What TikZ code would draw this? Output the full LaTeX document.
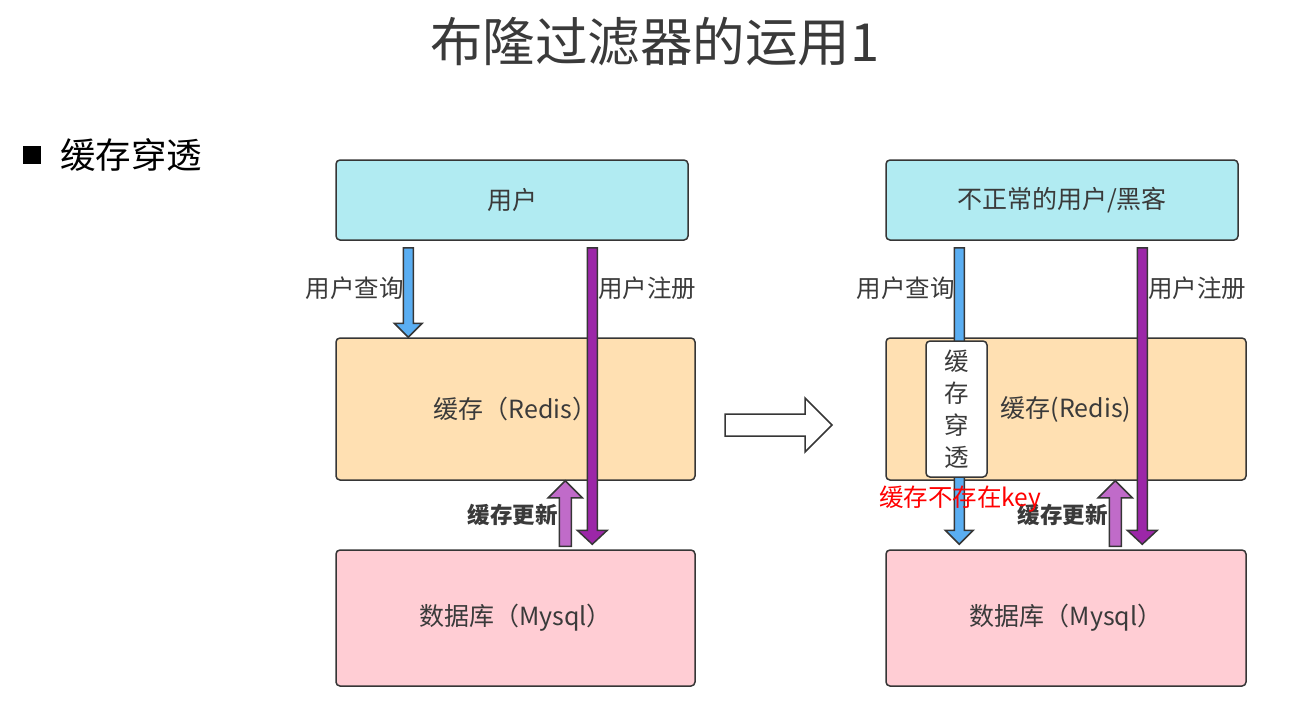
\documentclass[tikz,border=0pt]{standalone}
\usepackage{fontspec}
\setmainfont{Noto Sans CJK SC}
\usetikzlibrary{calc}

\definecolor{txtgray}{HTML}{3A3A3A}
\definecolor{usercyan}{HTML}{B1EBF2}
\definecolor{cachepeach}{HTML}{FFE0B2}
\definecolor{dbpink}{HTML}{FFCDD4}
\definecolor{queryblue}{HTML}{5AAEF2}
\definecolor{regpurple}{HTML}{9C27A8}
\definecolor{updpurple}{HTML}{C06BC9}
\definecolor{edgegray}{HTML}{363636}

% vertical block arrow: style, from, to, shaft half width, head half width, head length
\newcommand\blockarrow[6]{%
  \draw[#1] let \p1=(#2), \p2=(#3), \n1={ifthenelse(\y2>\y1,1,-1)} in
    (\x1-#4,\y1) -- (\x1+#4,\y1) -- (\x1+#4,\y2-\n1*#6) -- (\x1+#5,\y2-\n1*#6)
    -- (\x1,\y2) -- (\x1-#5,\y2-\n1*#6) -- (\x1-#4,\y2-\n1*#6) -- cycle;}

\begin{document}
\begin{tikzpicture}
    [x=1pt,y=-1pt,thick,
     box/.style={draw=edgegray,line width=1.5pt,rounded corners=4pt,text=txtgray,
       font=\fontsize{25}{30}\selectfont},
     lbl/.style={inner sep=0pt,text=txtgray,font=\fontsize{24.5}{30}\selectfont},
     boldlbl/.style={lbl,font=\fontsize{22.5}{28}\selectfont\bfseries},
     barrow/.style={draw=edgegray,line width=1.5pt,line join=miter}]
    \useasboundingbox (0,0) rectangle (1300,721);

    \node[text=txtgray,font=\fontsize{52.5}{62}\selectfont] (title) at (655,42) {布隆过滤器的运用1};
    \node[fill=black,minimum size=18pt,inner sep=0pt] (bullet) at (32,155) {};
    \node[anchor=west,inner sep=0pt,font=\fontsize{35.5}{42}\selectfont] (topic) at (60,155) {缓存穿透};

    % left: normal flow
    \node[box,fill=usercyan,minimum width=352pt,minimum height=80pt] (luser) at (512,200) {用户};
    \node[box,fill=cachepeach,minimum width=359pt,minimum height=142pt] (lcache) at (515.5,409) {缓存（Redis）};
    \node[box,fill=dbpink,minimum width=359pt,minimum height=136pt] (ldb) at (515.5,618) {数据库（Mysql）};

    \blockarrow{barrow,fill=queryblue}{[xshift=73pt,yshift=-7pt]luser.south west}{[xshift=73pt]lcache.north west}{5pt}{14pt}{14pt}
    \blockarrow{barrow,fill=regpurple}{[xshift=257pt,yshift=-7pt]luser.south west}{[xshift=257pt,yshift=5pt]ldb.north west}{5pt}{15pt}{14pt}
    \blockarrow{barrow,fill=updpurple}{[xshift=230pt,yshift=3pt]ldb.north west}{[xshift=230pt]lcache.south west}{6pt}{17pt}{17pt}

    \node[lbl,anchor=east] (lquery) at (404,288) {用户查询};
    \node[lbl,anchor=west] (lreg) at (598,288) {用户注册};
    \node[boldlbl,anchor=east] (lupd) at (558,515) {缓存更新};

    % hollow arrow between
    \draw[barrow,fill=white] (725,414) -- (805,414) -- (805,398) -- (832,425) -- (805,452)
        -- (805,436) -- (725,436) -- cycle;

    % right: penetration
    \node[box,fill=usercyan,minimum width=352pt,minimum height=80pt] (ruser) at (1062,200) {不正常的用户/黑客};
    \node[box,fill=cachepeach,minimum width=360pt,minimum height=142pt] (rcache) at (1066,409) {\hspace{0pt}缓存(Redis)};
    \node[box,fill=dbpink,minimum width=360pt,minimum height=136pt] (rdb) at (1066,618) {数据库（Mysql）};

    \blockarrow{barrow,fill=queryblue}{[xshift=74pt,yshift=-7pt]ruser.south west}{[xshift=74pt,yshift=5pt]rdb.north west}{5pt}{14pt}{14pt}
    \blockarrow{barrow,fill=regpurple}{[xshift=257pt,yshift=-7pt]ruser.south west}{[xshift=257pt,yshift=5pt]rdb.north west}{5pt}{15pt}{14pt}
    \blockarrow{barrow,fill=updpurple}{[xshift=230pt,yshift=3pt]rdb.north west}{[xshift=230pt]rcache.south west}{6pt}{17pt}{17pt}

    \node[box,fill=white,minimum width=61pt,minimum height=136pt,align=center,
      font=\fontsize{24.5}{32}\selectfont] (pierce) at (956.5,409) {缓\\存\\穿\\透};

    \node[lbl,anchor=east] (rquery) at (955,288) {用户查询};
    \node[lbl,anchor=west] (rreg) at (1148,288) {用户注册};
    \node[boldlbl,anchor=east] (rupd) at (1108,515) {缓存更新};
    \node[lbl,anchor=west,text=red] (nokey) at (879,499) {缓存不存在key};
\end{tikzpicture}
\end{document}
